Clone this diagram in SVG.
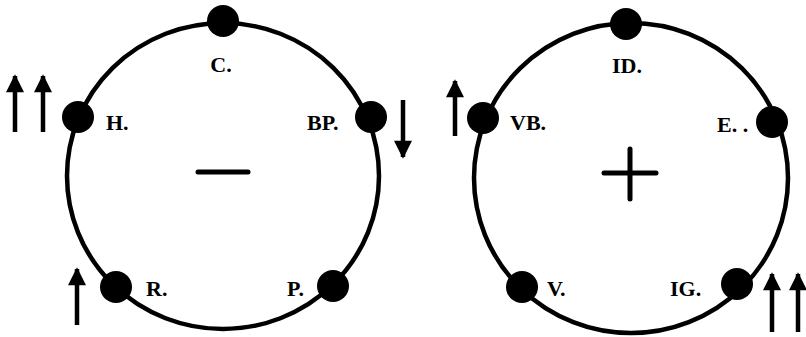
<svg xmlns="http://www.w3.org/2000/svg" width="806" height="337" viewBox="0 0 806 337">
<style>
.ring{fill:none;stroke:#000;stroke-width:4.5}
.dot{fill:#000}
.lbl{font-family:"Liberation Serif","Times New Roman",serif;font-weight:bold;font-size:22px;fill:#000}
.sign{stroke:#000;stroke-width:5;stroke-linecap:round;fill:none}
.arr{stroke:#000;stroke-width:4.5;fill:none}
</style>
<defs>
<marker id="ah" viewBox="0 0 10 10" refX="9" refY="5" markerWidth="4.4" markerHeight="4" orient="auto" markerUnits="strokeWidth">
<path d="M0,0 L10,5 L0,10 z" fill="#000"/>
</marker>
</defs>
<rect width="806" height="337" fill="#fff"/>
<g id="circle-left">
<ellipse class="ring" cx="223" cy="176" rx="156" ry="153"/>
<line class="sign" x1="198" y1="172" x2="248" y2="172"/>
</g>
<g id="circle-right">
<ellipse class="ring" cx="631" cy="178" rx="157" ry="155"/>
<line class="sign" x1="604" y1="173" x2="656" y2="173"/>
<line class="sign" x1="630" y1="149" x2="630" y2="199"/>
</g>
<g id="node-C"><circle class="dot" cx="223" cy="21" r="16"/><text class="lbl" x="221" y="72" text-anchor="middle">C.</text></g>
<g id="node-H"><circle class="dot" cx="78" cy="117" r="16"/><text class="lbl" x="106" y="130">H.</text></g>
<g id="node-BP"><circle class="dot" cx="371" cy="117" r="16"/><text class="lbl" x="307" y="130">BP.</text></g>
<g id="node-R"><circle class="dot" cx="116" cy="287" r="16"/><text class="lbl" x="146" y="296">R.</text></g>
<g id="node-P"><circle class="dot" cx="333" cy="286" r="16"/><text class="lbl" x="287" y="296">P.</text></g>
<g id="node-ID"><circle class="dot" cx="626" cy="24" r="16"/><text class="lbl" x="627" y="73" text-anchor="middle">ID.</text></g>
<g id="node-VB"><circle class="dot" cx="483" cy="118" r="16"/><text class="lbl" x="510" y="130">VB.</text></g>
<g id="node-E"><circle class="dot" cx="772" cy="122" r="16"/><text class="lbl" x="717" y="132">E. .</text></g>
<g id="node-V"><circle class="dot" cx="522" cy="287" r="16"/><text class="lbl" x="547" y="296">V.</text></g>
<g id="node-IG"><circle class="dot" cx="737" cy="284" r="16"/><text class="lbl" x="670" y="296">IG.</text></g>
<g id="connectors">
<line class="arr" x1="15" y1="132" x2="15" y2="76" marker-end="url(#ah)"/>
<line class="arr" x1="43" y1="132" x2="43" y2="76" marker-end="url(#ah)"/>
<line class="arr" x1="403" y1="100" x2="403" y2="157" marker-end="url(#ah)"/>
<line class="arr" x1="77" y1="325" x2="77" y2="269" marker-end="url(#ah)"/>
<line class="arr" x1="455" y1="136" x2="455" y2="81" marker-end="url(#ah)"/>
<line class="arr" x1="772" y1="332" x2="772" y2="274" marker-end="url(#ah)"/>
<line class="arr" x1="798" y1="332" x2="798" y2="274" marker-end="url(#ah)"/>
</g>
</svg>
